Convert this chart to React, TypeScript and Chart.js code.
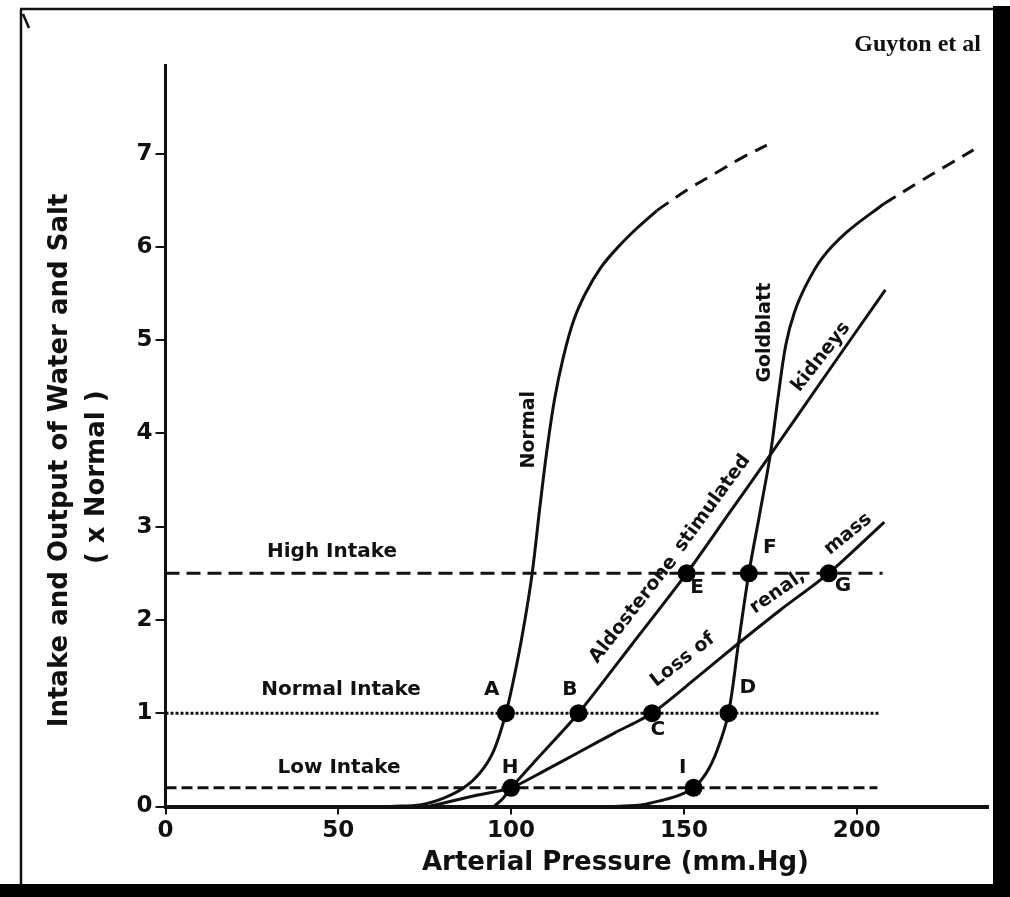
import React, { useEffect, useRef } from 'react';
import { Chart, registerables } from 'chart.js';

Chart.register(...registerables);

// ---------- data ----------
const xTickValues = [0, 50, 100, 150, 200];
const yTickValues = [0, 1, 2, 3, 4, 5, 6, 7];

const normalX = [65, 74, 80.5, 86.3, 91, 95, 98.5, 101.5, 104, 106.1, 108.3, 110.3, 112.5, 115, 118, 121.5, 126, 131, 136.4, 142.2];
const normalY = [0, 0.02, 0.09, 0.2, 0.36, 0.6, 1.0, 1.5, 2.0, 2.5, 3.2, 3.8, 4.35, 4.8, 5.2, 5.5, 5.78, 6.0, 6.2, 6.39];
const normalDashX = [142.2, 150.9, 159.6, 167, 174];
const normalDashY = [6.39, 6.61, 6.8, 6.96, 7.09];

const goldblattX = [130, 138, 144, 148.5, 152.8, 156.5, 159.6, 162.9, 165.8, 168.8, 172, 175, 177.3, 179.5, 182, 185.5, 190, 197.2, 207.8];
const goldblattY = [0, 0.02, 0.07, 0.12, 0.2, 0.36, 0.6, 1.0, 1.75, 2.5, 3.15, 3.77, 4.4, 4.95, 5.3, 5.6, 5.88, 6.16, 6.46];
const goldblattDashX = [207.8, 217.4, 226, 233.8];
const goldblattDashY = [6.46, 6.68, 6.87, 7.04];

const aldosteroneX = [95, 97.5, 100, 108, 119.5, 135, 150.8, 163, 175, 190, 208.3];
const aldosteroneY = [0, 0.08, 0.2, 0.53, 1.0, 1.74, 2.5, 3.14, 3.77, 4.57, 5.54];

const lossX = [76, 82, 90, 100, 110, 120, 130, 140.8, 153, 165.8, 178, 191.9, 208];
const lossY = [0, 0.05, 0.12, 0.2, 0.39, 0.59, 0.79, 1.0, 1.36, 1.75, 2.11, 2.5, 3.05];

const intakeNames = ['High Intake', 'Normal Intake', 'Low Intake'];
const intakeLevels = [2.5, 1.0, 0.2];
const intakeEnds = [207.5, 206.3, 206];

const pointNames = ['A', 'B', 'C', 'D', 'E', 'F', 'G', 'H', 'I'];
const pointX = [98.5, 119.5, 140.8, 162.9, 150.8, 168.8, 191.9, 100, 152.8];
const pointY = [1.0, 1.0, 1.0, 1.0, 2.5, 2.5, 2.5, 0.2, 0.2];

const xTitle = 'Arterial Pressure (mm.Hg)';
const yTitle = ['Intake and Output of Water and Salt', '( x Normal )'];
const credit = 'Guyton et al';

// ---------- annotation placement (data coordinates) ----------
const pointLabelAt: Record<string, [number, number]> = {
  A: [94.4, 1.25], B: [117.0, 1.25], C: [142.5, 0.82], D: [168.5, 1.27],
  E: [153.8, 2.35], F: [174.9, 2.77], G: [196.0, 2.37], H: [99.7, 0.41], I: [149.7, 0.42],
};
const intakeLabelAt: [number, number][] = [[48.2, 2.73], [50.8, 1.25], [50.2, 0.42]];
const curveLabels: { text: string; x: number; y: number; rot: number }[] = [
  { text: 'Normal', x: 105.2, y: 4.04, rot: -90 },
  { text: 'Goldblatt', x: 173.5, y: 5.08, rot: -90 },
  { text: 'kidneys', x: 189.7, y: 4.82, rot: -52 },
  { text: 'Aldosterone', x: 135.4, y: 2.11, rot: -52 },
  { text: 'stimulated', x: 158.3, y: 3.25, rot: -54 },
  { text: 'Loss of', x: 149.7, y: 1.57, rot: -38 },
  { text: 'renal,', x: 177.1, y: 2.3, rot: -35 },
  { text: 'mass', x: 197.5, y: 2.92, rot: -39 },
];

const FONT = "'DejaVu Sans', 'Liberation Sans', sans-serif";
const INK = '#111';

const zip = (xs: number[], ys: number[]) => xs.map((x, i) => ({ x, y: ys[i] }));

const curve = (data: { x: number; y: number }[], dash: number[] = [], tension = 0.35) => ({
  data,
  showLine: true,
  borderColor: INK,
  borderWidth: 3,
  borderDash: dash,
  borderCapStyle: 'butt' as const,
  pointRadius: 0,
  tension,
  fill: false,
});

const decor = {
  id: 'decor',
  beforeDraw(chart: any) {
    const { ctx } = chart;
    ctx.save();
    ctx.fillStyle = '#fff';
    ctx.fillRect(0, 0, chart.width, chart.height);
    ctx.strokeStyle = INK;
    ctx.lineWidth = 2.5;
    ctx.beginPath();
    ctx.moveTo(20, 9);
    ctx.lineTo(995, 9);
    ctx.moveTo(21, 9);
    ctx.lineTo(21, 885);
    ctx.moveTo(23, 14);
    ctx.lineTo(29, 28);
    ctx.stroke();
    ctx.fillStyle = '#000';
    ctx.fillRect(993, 6, 17, 891);
    ctx.fillRect(0, 884, 1010, 13);
    ctx.restore();
  },
  afterDraw(chart: any) {
    const { ctx, chartArea } = chart;
    const xs = chart.scales.x;
    const ys = chart.scales.y;
    const text = (t: string, x: number, y: number, rot: number, size: number, align: CanvasTextAlign = 'center', family = FONT) => {
      ctx.save();
      ctx.translate(x, y);
      ctx.rotate((rot * Math.PI) / 180);
      ctx.font = `bold ${size}px ${family}`;
      ctx.fillStyle = INK;
      ctx.textAlign = align;
      ctx.textBaseline = 'middle';
      ctx.fillText(t, 0, 0);
      ctx.restore();
    };
    pointNames.forEach((n) => {
      const [vx, vy] = pointLabelAt[n];
      text(n, xs.getPixelForValue(vx), ys.getPixelForValue(vy), 0, 20);
    });
    intakeNames.forEach((n, i) => {
      const [vx, vy] = intakeLabelAt[i];
      text(n, xs.getPixelForValue(vx), ys.getPixelForValue(vy), 0, 20);
    });
    curveLabels.forEach((c) => text(c.text, xs.getPixelForValue(c.x), ys.getPixelForValue(c.y), c.rot, 19));
    // axis titles
    text(xTitle, xs.getPixelForValue(130.2), chartArea.bottom + 57, 0, 26);
    text(yTitle[0], 60, ys.getPixelForValue(3.71), -90, 26);
    text(yTitle[1], 97, ys.getPixelForValue(3.53), -90, 26);
    text(credit, 981, 45, 0, 24, 'right', "'Liberation Serif', serif");
  },
};

export default function App() {
  const ref = useRef<HTMLCanvasElement | null>(null);
  useEffect(() => {
    if (!ref.current) return;
    const pts = zip(pointX, pointY);
    const chart = new Chart(ref.current, {
      type: 'scatter',
      data: {
        datasets: [
          {
            data: pts,
            showLine: false,
            pointRadius: 9,
            pointBackgroundColor: '#000',
            pointBorderWidth: 0,
          } as any,
          curve(zip(normalX, normalY)),
          curve(zip(normalDashX, normalDashY), [14, 9]),
          curve(zip(goldblattX, goldblattY)),
          curve(zip(goldblattDashX, goldblattDashY), [14, 9]),
          curve(zip(aldosteroneX, aldosteroneY), [], 0.25),
          curve(zip(lossX, lossY), [], 0.25),
          curve([{ x: 0, y: intakeLevels[0] }, { x: intakeEnds[0], y: intakeLevels[0] }], [14, 7], 0),
          curve([{ x: 0, y: intakeLevels[1] }, { x: intakeEnds[1], y: intakeLevels[1] }], [3, 2], 0),
          curve([{ x: 0, y: intakeLevels[2] }, { x: intakeEnds[2], y: intakeLevels[2] }], [11, 5], 0),
        ] as any,
      },
      options: {
        responsive: false,
        animation: false,
        devicePixelRatio: 1,
        layout: { padding: { top: 65, right: 22, bottom: 0, left: 0 } },
        plugins: { legend: { display: false }, tooltip: { enabled: false } },
        events: [],
        scales: {
          x: {
            type: 'linear',
            min: 0,
            max: 238,
            afterBuildTicks: (s: any) => { s.ticks = xTickValues.map((v) => ({ value: v })); },
            afterFit: (s: any) => { s.height = 90.5; },
            ticks: { color: INK, font: { family: FONT, size: 23, weight: 'bold' }, padding: 3, maxRotation: 0, autoSkip: false },
            grid: { drawOnChartArea: false, drawTicks: true, tickLength: 8, color: INK, lineWidth: 2 },
            border: { display: true, color: INK, width: 4 },
          },
          y: {
            type: 'linear',
            min: 0,
            max: 7.95,
            afterBuildTicks: (s: any) => { s.ticks = yTickValues.map((v) => ({ value: v })); },
            afterFit: (s: any) => { s.width = 165.5; },
            ticks: { color: INK, font: { family: FONT, size: 23, weight: 'bold' }, padding: 3, autoSkip: false },
            grid: { drawOnChartArea: false, drawTicks: true, tickLength: 10, color: INK, lineWidth: 2 },
            border: { display: true, color: INK, width: 3 },
          },
        },
      } as any,
      plugins: [decor],
    });
    return () => chart.destroy();
  }, []);
  return (
    <div style={{ position: 'fixed', left: 0, top: 0, width: 1010, height: 897, background: '#fff' }}>
      <canvas ref={ref} width={1010} height={897} style={{ display: 'block' }} />
    </div>
  );
}
